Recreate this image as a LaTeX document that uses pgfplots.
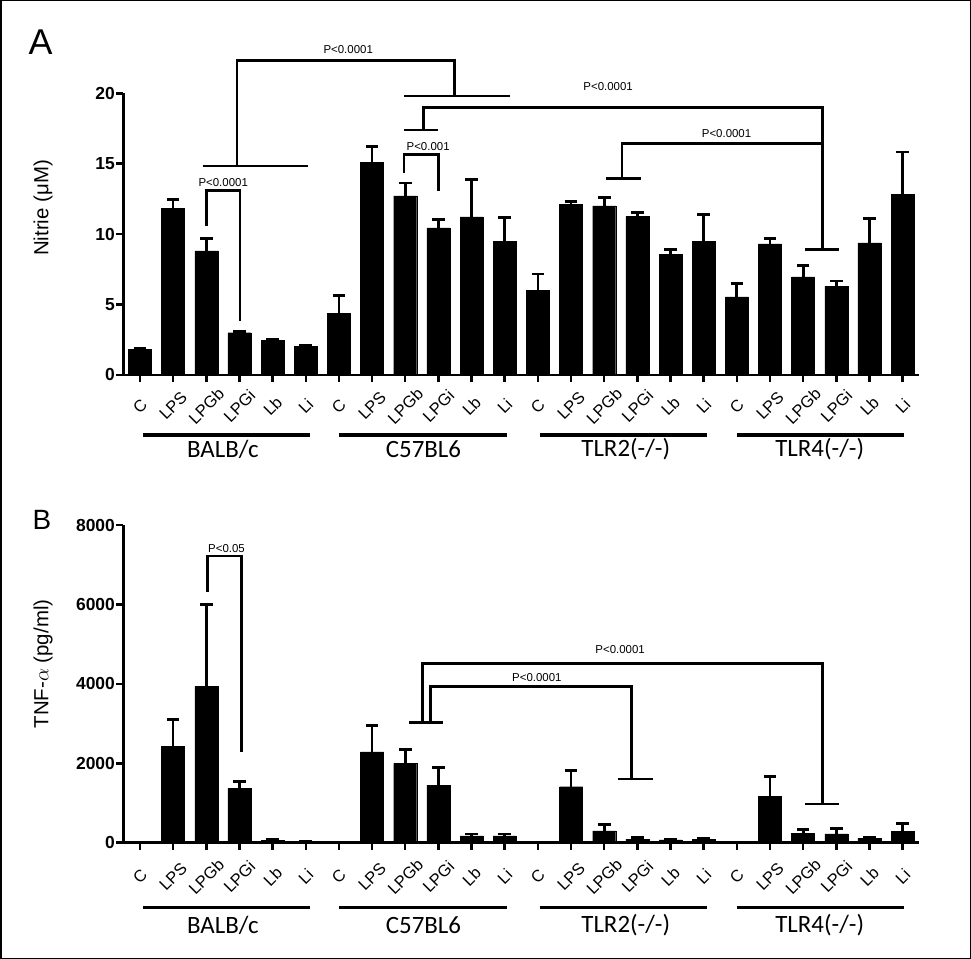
\documentclass[border=0pt]{standalone}
\usepackage{pgfplots}
\pgfplotsset{compat=1.18}
\usepackage{pgfplotstable}
\usepackage{fontspec}
\setmainfont{Liberation Sans}
\newfontfamily\calib{Carlito}

\pgfplotstableread{
x y e
0 1.84 0.08
1 11.82 0.64
2 8.82 0.88
3 3.00 0.10
4 2.48 0.08
5 2.03 0.05
6 4.38 1.25
7 15.09 1.15
8 12.72 0.92
9 10.45 0.59
10 11.23 2.67
11 9.50 1.70
12 6.03 1.13
13 12.10 0.20
14 12.00 0.62
15 11.25 0.31
16 8.56 0.33
17 9.48 1.89
18 5.55 0.93
19 9.31 0.38
20 6.97 0.78
21 6.31 0.36
22 9.38 1.72
23 12.82 3.02
}\nitrite

\pgfplotstableread{
x y e
0 15 0
1 2430 680
2 3930 2060
3 1370 165
4 60 15
5 30 10
6 15 0
7 2290 670
8 2000 350
9 1450 450
10 170 50
11 170 50
12 10 0
13 1410 410
14 300 150
15 90 40
16 70 25
17 80 30
18 5 0
19 1160 500
20 240 100
21 220 130
22 110 25
23 290 190
}\tnf

\tikzset{ann/.style={line width=2.7bp, line join=miter},
  pl/.style={font=\fontsize{11.5}{12}\selectfont, inner sep=0pt},
  grp/.style={font=\calib\fontsize{25}{26}\selectfont, inner sep=0pt},
  gline/.style={line width=3.2bp}}

\pgfplotsset{panel/.style={
  scale only axis, width=795.8bp,
  xmin=-0.5, xmax=23.5, ymin=0,
  axis lines=left, axis line style={-, line width=2.7bp, black},
  tick align=outside, major tick length=7bp,
  tick style={line width=2.5bp, black},
  xtick={0,...,23},
  xticklabels={C,LPS,LPGb,LPGi,Lb,Li,C,LPS,LPGb,LPGi,Lb,Li,C,LPS,LPGb,LPGi,Lb,Li,C,LPS,LPGb,LPGi,Lb,Li},
  xticklabel style={anchor=center, font=\fontsize{16.5}{16.5}\selectfont},
  yticklabel style={font=\bfseries\fontsize{17.5}{17.5}\selectfont, xshift=2bp},
  /pgf/number format/assume math mode=true,
  /pgf/number format/set thousands separator={},
  scaled y ticks=false,
  ylabel style={rotate=0, anchor=center, font=\fontsize{20.5}{20.5}\selectfont},
  clip=false,
}}

\begin{document}
\begin{tikzpicture}
\useasboundingbox (0,0) rectangle (971bp,959bp);
\draw[line width=1.5bp] (0.75bp,0.75bp) rectangle (970.25bp,958.25bp);
\node[font=\fontsize{36}{36}\selectfont, inner sep=0pt] at (40.5bp,917bp) {A};
\node[font=\fontsize{28}{28}\selectfont, inner sep=0pt] at (42bp,439.5bp) {B};

% Panel A
\begin{axis}[panel, at={(123.4bp,584bp)}, anchor=south west,
  height=281.7bp, ymax=20, ytick={0,5,10,15,20},
  xticklabel style={yshift=-24bp, rotate=45},
  ylabel={Nitrie (μM)},
  ylabel style={at={(axis description cs:-0.101,0.593)}}]
\addplot[ybar, bar width=23bp, fill=black, draw=black, line width=0.4bp,
  error bars/.cd, y dir=plus, y explicit,
  error bar style={line width=2.7bp, black},
  error mark options={rotate=90, mark size=6.3bp, line width=2.7bp, black}]
  table[x=x, y=y, y error=e] {\nitrite};
\draw[ann] (axis cs:2.01,10.6) |- (axis cs:3.02,13.1) -- (axis cs:3.02,3.85);
\node[pl] at (axis cs:2.51,13.65) {P<0.0001};
\draw[ann] (axis cs:1.91,14.84) -- (axis cs:5.08,14.84);
\draw[ann] (axis cs:2.93,14.84) |- (axis cs:9.48,22.34) -- (axis cs:9.48,19.81);
\draw[ann] (axis cs:7.96,19.81) -- (axis cs:11.16,19.81);
\node[pl] at (axis cs:6.28,23.14) {P<0.0001};
\draw[ann] (axis cs:7.96,14.36) |- (axis cs:9.0,15.67) -- (axis cs:9.0,13.09);
\node[pl] at (axis cs:8.69,16.19) {P<0.001};
\draw[ann] (axis cs:7.96,17.39) -- (axis cs:9.0,17.39);
\draw[ann] (axis cs:8.54,17.39) |- (axis cs:20.59,19.0) -- (axis cs:20.59,8.92);
\draw[ann] (axis cs:20.06,8.92) -- (axis cs:21.09,8.92);
\node[pl] at (axis cs:14.12,20.45) {P<0.0001};
\draw[ann] (axis cs:14.05,13.96) -- (axis cs:15.1,13.96);
\draw[ann] (axis cs:14.54,13.96) |- (axis cs:20.59,16.45);
\node[pl] at (axis cs:17.69,17.11) {P<0.0001};
% groups
\draw[gline] ([yshift=-60bp]axis cs:0.1,0) -- ([yshift=-60bp]axis cs:5.13,0);
\draw[gline] ([yshift=-60bp]axis cs:6.0,0) -- ([yshift=-60bp]axis cs:11.07,0);
\draw[gline] ([yshift=-60bp]axis cs:12.05,0) -- ([yshift=-60bp]axis cs:17.09,0);
\draw[gline] ([yshift=-60bp]axis cs:18.02,0) -- ([yshift=-60bp]axis cs:23.04,0);
\node[grp] at ([yshift=-74.5bp]axis cs:2.5,0) {BALB/c};
\node[grp] at ([yshift=-74.5bp]axis cs:8.55,0) {C57BL6};
\node[grp] at ([yshift=-74.5bp]axis cs:14.65,0) {TLR2(-/-)};
\node[grp] at ([yshift=-74.5bp]axis cs:20.5,0) {TLR4(-/-)};
\end{axis}

% Panel B
\begin{axis}[panel, at={(123.4bp,116.3bp)}, anchor=south west,
  height=317.7bp, ymax=8000, ytick={0,2000,4000,6000,8000},
  xticklabel style={yshift=-27bp, rotate=45},
  ylabel={TNF-$\alpha$ (pg/ml)},
  ylabel style={at={(axis description cs:-0.101,0.5625)}}]
\addplot[ybar, bar width=23bp, fill=black, draw=black, line width=0.4bp,
  error bars/.cd, y dir=plus, y explicit,
  error bar style={line width=2.7bp, black},
  error mark options={rotate=90, mark size=6.3bp, line width=2.7bp, black}]
  table[x=x, y=y, y error=e] {\tnf};
\draw[ann] (axis cs:2.04,6320) |- (axis cs:3.07,7219) -- (axis cs:3.07,2291);
\node[pl] at (axis cs:2.61,7413) {P<0.05};
\draw[ann] (axis cs:8.12,3032) -- (axis cs:9.15,3032);
\draw[ann] (axis cs:8.53,3032) |- (axis cs:20.59,4517) -- (axis cs:20.59,975);
\draw[ann] (axis cs:20.06,975) -- (axis cs:21.09,975);
\draw[ann] (axis cs:8.77,3032) |- (axis cs:14.83,3928) -- (axis cs:14.83,1604);
\draw[ann] (axis cs:14.41,1604) -- (axis cs:15.46,1604);
\node[pl] at (axis cs:14.48,4853) {P<0.0001};
\node[pl] at (axis cs:11.97,4155) {P<0.0001};
% groups
\draw[gline] ([yshift=-64.6bp]axis cs:0.1,0) -- ([yshift=-64.6bp]axis cs:5.13,0);
\draw[gline] ([yshift=-64.6bp]axis cs:6.0,0) -- ([yshift=-64.6bp]axis cs:11.07,0);
\draw[gline] ([yshift=-64.6bp]axis cs:12.05,0) -- ([yshift=-64.6bp]axis cs:17.09,0);
\draw[gline] ([yshift=-64.6bp]axis cs:18.02,0) -- ([yshift=-64.6bp]axis cs:23.04,0);
\node[grp] at ([yshift=-82.3bp]axis cs:2.5,0) {BALB/c};
\node[grp] at ([yshift=-82.3bp]axis cs:8.55,0) {C57BL6};
\node[grp] at ([yshift=-82.3bp]axis cs:14.65,0) {TLR2(-/-)};
\node[grp] at ([yshift=-82.3bp]axis cs:20.5,0) {TLR4(-/-)};
\end{axis}
\end{tikzpicture}
\end{document}
